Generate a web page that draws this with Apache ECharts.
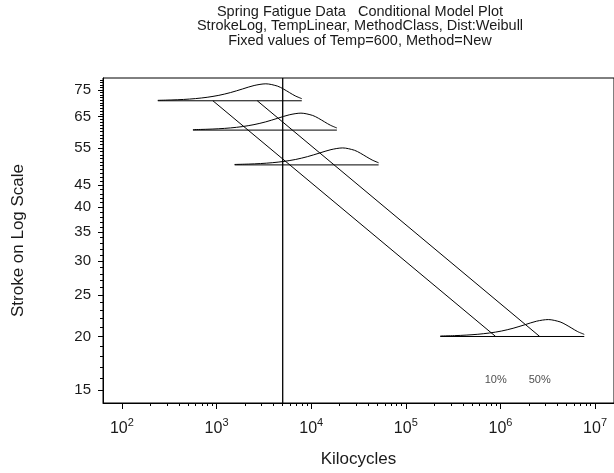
<!DOCTYPE html>
<html><head><meta charset="utf-8">
<script src="https://cdn.jsdelivr.net/npm/echarts@6/dist/echarts.min.js"></script>
<style>html,body{margin:0;padding:0;background:#fff}#c{width:614px;height:473px}</style>
</head><body><div id="c"></div>
<script>
const titleLines = [
  'Spring Fatigue Data   Conditional Model Plot',
  'StrokeLog, TempLinear, MethodClass, Dist:Weibull',
  'Fixed values of Temp=600, Method=New'
];
const xName = 'Kilocycles';
const yName = 'Stroke on Log Scale';
const xTickLabels = [100, 1000, 10000, 100000, 1000000, 10000000];
const yTickLabels = [15, 20, 25, 30, 35, 40, 45, 55, 65, 75];

const strokeLevels = [70.8, 60.5, 50.2, 20];
const lifeStart = [239.5, 563, 1553, 231300];
const lifeEnd = [7956, 18690, 51600, 7685000];

const density70 = [[239.5,70.97],[337.5,71.12],[449,71.31],[598,71.63],[795,72.14],[1058,72.90],[1408,74.00],[1874,75.41],[2494,76.84],[3319,77.54],[4417,76.58],[5096,75.41],[5878,74.01],[6782,72.68],[7956,71.61]];
const density60 = [[563,60.65],[793,60.77],[1055,60.94],[1404,61.21],[1868,61.64],[2487,62.30],[3309,63.23],[4404,64.44],[5861,65.66],[7798,66.26],[10378,65.44],[11973,64.44],[13810,63.25],[15934,62.11],[18690,61.19]];
const density50 = [[1553,50.32],[2189,50.42],[2912,50.56],[3877,50.79],[5158,51.15],[6865,51.69],[9135,52.47],[12160,53.47],[16180,54.48],[21530,54.98],[28650,54.30],[33050,53.47],[38130,52.48],[43990,51.54],[51600,50.77]];
const density20 = [[231300,20.05],[326100,20.09],[433800,20.15],[577200,20.24],[768100,20.38],[1022000,20.59],[1360000,20.90],[1810000,21.30],[2409000,21.71],[3206000,21.90],[4267000,21.63],[4923000,21.30],[5679000,20.91],[6550000,20.53],[7685000,20.23]];

const q10Line = [[915, 70.8], [890000, 20]];
const q50Line = [[2692, 70.8], [2600000, 20]];
const refKilocycles = 5000;
const quantileNames = ['10%', '50%'];
const quantileLabelX = [890000, 2600000];
const quantileLabelStroke = 15.86;

const xMin = 63.0957, xMax = 15848932;
const yMin = 14, yMax = 80;

const xMinorTicks = [];
for (let k = 2; k <= 6; k++) for (let m = 2; m <= 9; m++) xMinorTicks.push(m * Math.pow(10, k));
const yMinorTicks = [];
for (let v = 15; v <= 79; v++) yMinorTicks.push(v);

const FONT = 'Liberation Sans, Arial, Helvetica, sans-serif';
const INK = '#000';
const TXT = '#1a1a1a';

const lineStyleBase = { color: INK, width: 1 };
function lineSeries(data, smooth) {
  return {
    type: 'line', xAxisIndex: 0, yAxisIndex: 0, data: data,
    symbol: 'none', smooth: smooth || false, silent: true,
    lineStyle: lineStyleBase, z: 3
  };
}

const densities = [density70, density60, density50, density20];
const series = [];
densities.forEach(d => series.push(lineSeries(d, 0.3)));
strokeLevels.forEach((lv, i) => series.push(lineSeries([[lifeStart[i], lv], [lifeEnd[i], lv]])));
series.push(lineSeries(q10Line));
series.push(lineSeries(q50Line));
series.push({
  type: 'line', data: [[refKilocycles, yMin], [refKilocycles, yMax]], symbol: 'none', silent: true,
  lineStyle: { color: INK, width: 1.3 }, z: 3
});
series.push({
  type: 'scatter', symbolSize: 1, itemStyle: { color: 'rgba(0,0,0,0)' }, silent: true,
  data: quantileNames.map((n, i) => ({ name: n, value: [quantileLabelX[i], quantileLabelStroke] })),
  label: { show: true, position: 'inside', formatter: p => p.name, fontSize: 11, fontFamily: FONT, color: TXT }
});

function expLabel(v) {
  const e = Math.round(Math.log10(v));
  return '{b|10}{s|' + e + '}';
}

const option = {
  animation: false,
  backgroundColor: '#fff',
  textStyle: { fontFamily: FONT },
  grid: { left: 103, right: -4, top: 78, bottom: 69, show: true, borderColor: INK, borderWidth: 1 },
  graphic: titleLines.map((t, i) => ({
    type: 'text', x: 360, y: 12 + i * 14.3, silent: true,
    style: { text: t, font: '14.5px ' + FONT, fill: TXT, align: 'center', verticalAlign: 'middle' }
  })),
  xAxis: [{
    type: 'log', logBase: 10, min: xMin, max: xMax,
    name: xName, nameLocation: 'middle', nameGap: 48,
    nameTextStyle: { fontSize: 17, color: TXT, fontFamily: FONT },
    axisLine: { show: true, lineStyle: { color: INK, width: 1 } },
    axisTick: { show: true, length: 6, inside: false, lineStyle: { color: INK }, customValues: xTickLabels },
    axisLabel: { show: true, margin: 14, customValues: xTickLabels, formatter: expLabel,
      rich: { b: { fontSize: 16, lineHeight: 24, color: TXT, fontFamily: FONT },
              s: { fontSize: 11, lineHeight: 12, verticalAlign: 'top', color: TXT, fontFamily: FONT } } },
    splitLine: { show: false }, minorTick: { show: false }
  }, {
    type: 'log', logBase: 10, min: xMin, max: xMax, position: 'bottom',
    axisLine: { show: false },
    axisTick: { show: true, length: 3, lineStyle: { color: INK }, customValues: xMinorTicks },
    axisLabel: { show: false }, splitLine: { show: false }
  }],
  yAxis: [{
    type: 'log', logBase: 10, min: yMin, max: yMax,
    name: yName, nameLocation: 'middle', nameGap: 76,
    nameTextStyle: { fontSize: 17, color: TXT, fontFamily: FONT },
    axisLine: { show: true, lineStyle: { color: INK, width: 1 } },
    axisTick: { show: true, length: 5, lineStyle: { color: INK }, customValues: yTickLabels },
    axisLabel: { show: true, margin: 12, fontSize: 15, color: TXT, fontFamily: FONT, customValues: yTickLabels },
    splitLine: { show: false }
  }, {
    type: 'log', logBase: 10, min: yMin, max: yMax, position: 'left',
    axisLine: { show: false },
    axisTick: { show: true, length: 3, lineStyle: { color: INK }, customValues: yMinorTicks },
    axisLabel: { show: false }, splitLine: { show: false }
  }],
  series: series
};

const chart = echarts.init(document.getElementById('c'), null, { renderer: 'canvas' });
chart.setOption(option);
</script>
</body></html>
